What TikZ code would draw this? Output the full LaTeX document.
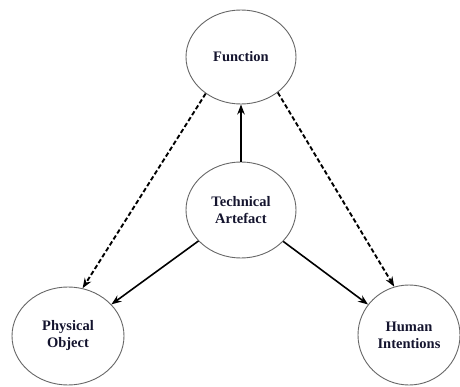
\documentclass[tikz,border=0pt]{standalone}
\usepackage{fontspec}
\setmainfont{Liberation Serif}
\usetikzlibrary{shapes.geometric,arrows.meta}
\definecolor{txt}{rgb}{0.08,0.08,0.18}
\definecolor{ring}{gray}{0.4}
\tikzset{
  blob/.style={ellipse, draw=ring, line width=0.9pt, inner sep=0pt,
    font=\bfseries\fontsize{14.5}{17}\selectfont, text=txt, align=center},
  solidarrow/.style={line width=1.6pt, -{Stealth[length=10pt,width=7.5pt]}},
  dasharrow/.style={line width=1.9pt, dash pattern=on 4.5pt off 2.5pt, -{Stealth[length=10pt,width=7.5pt]}}
}
\begin{document}
\begin{tikzpicture}[x=1pt,y=-1pt]
\useasboundingbox (0,0) rectangle (460,387);
\node[blob, minimum width=110pt, minimum height=94pt] (fun) at (241,57) {Function};
\node[blob, minimum width=110pt, minimum height=96pt] (art) at (241,210) {Technical\\Artefact};
\node[blob, minimum width=112pt, minimum height=98pt] (phy) at (68,336) {Physical\\Object};
\node[blob, minimum width=102pt, minimum height=100pt] (hum) at (409,335) {Human\\Intentions};
\draw[solidarrow] (art.north) -- (fun.south);
\draw[solidarrow] (art) -- (phy);
\draw[solidarrow] (art) -- (hum);
\draw[dasharrow] (fun.-134) -- (phy.73);
\draw[dasharrow] (fun.-44) -- (hum.107);
\end{tikzpicture}
\end{document}
